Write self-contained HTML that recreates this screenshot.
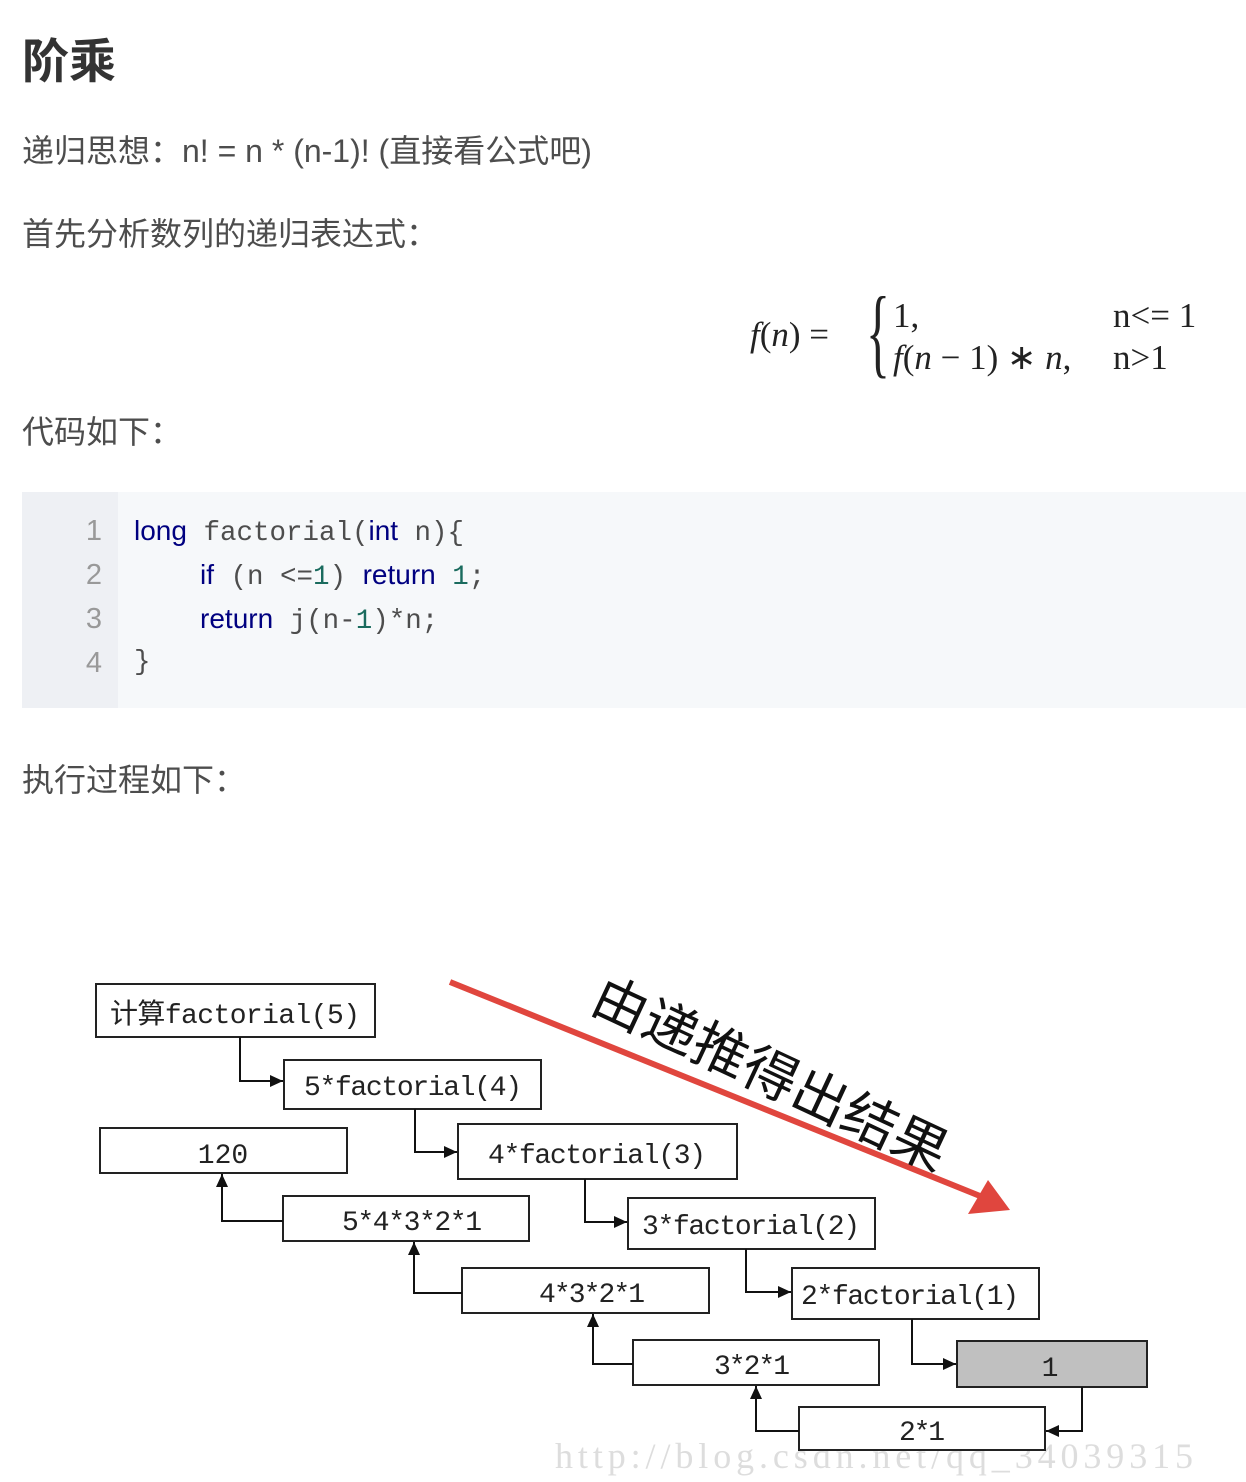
<!DOCTYPE html>
<html><head><meta charset="utf-8"><style>
html,body{margin:0;padding:0;background:#fff;width:1246px;height:1482px;overflow:hidden}
.t{position:absolute;font-family:"Liberation Sans","Noto Sans CJK SC",sans-serif;color:#4d4d4d;font-size:32px;white-space:nowrap;line-height:1}
.code{position:absolute;left:22px;top:492px;width:1224px;height:216px;background:#f6f8fa}
.gut{position:absolute;left:0;top:0;width:96px;height:216px;background:#eef0f4}
.ln{position:absolute;left:0;width:80px;text-align:right;font-family:"Liberation Sans",sans-serif;font-size:29px;color:#999}
.cl{position:absolute;left:112px;font-family:"Liberation Mono",monospace;font-size:27.5px;color:#4d4d4d;white-space:pre}
.k{color:#000080;font-family:"Liberation Sans",sans-serif;font-size:28px}
.n{color:#1a6b5e}
.m{position:absolute;font-family:"Liberation Serif",serif;font-size:35px;color:#222;white-space:nowrap;line-height:1}
</style></head><body>
<div class="t" style="left:22px;top:38px;font-size:47px;font-weight:bold;color:#333">阶乘</div>
<div class="t" style="left:22px;top:135px">递归思想：n! = n * (n-1)! (直接看公式吧)</div>
<div class="t" style="left:22px;top:218px">首先分析数列的递归表达式：</div>
<div class="m" style="left:750px;top:317px"><i>f</i>(<i>n</i>) =</div>
<div class="m" style="left:866px;top:282px;font-size:100px;font-weight:lighter;transform:scaleX(0.5);transform-origin:left top">{</div>
<div class="m" style="left:893px;top:298px">1,</div>
<div class="m" style="left:893px;top:340px"><i>f</i>(<i>n</i> − 1) ∗ <i>n</i>,</div>
<div class="m" style="left:1113px;top:298px">n&lt;= 1</div>
<div class="m" style="left:1113px;top:340px">n&gt;1</div>
<div class="t" style="left:22px;top:416px">代码如下：</div>
<div class="code"><div class="gut"></div>
<div class="ln" style="top:23px">1</div><div class="ln" style="top:67px">2</div><div class="ln" style="top:111px">3</div><div class="ln" style="top:155px">4</div>
<div class="cl" style="top:23px"><span class="k">long</span> factorial(<span class="k">int</span> n){</div>
<div class="cl" style="top:67px">    <span class="k">if</span> (n &lt;=<span class="n">1</span>) <span class="k">return</span> <span class="n">1</span>;</div>
<div class="cl" style="top:111px">    <span class="k">return</span> j(n-<span class="n">1</span>)*n;</div>
<div class="cl" style="top:155px">}</div>
</div>
<div class="t" style="left:22px;top:764px">执行过程如下：</div>
<svg style="position:absolute;left:0;top:0" width="1246" height="1482">
<defs><marker id="a" markerWidth="14" markerHeight="14" refX="13" refY="6" orient="auto" markerUnits="userSpaceOnUse"><path d="M0,0 L13,6 L0,12z" fill="#111"/></marker></defs>
<text x="555" y="1468" font-family="Liberation Serif,serif" font-size="36" fill="#ddd" textLength="638" lengthAdjust="spacing">http://blog.csdn.net/qq_34039315</text>
<g fill="#fff" stroke="#222" stroke-width="2">
<rect x="96" y="984" width="279" height="53"/>
<rect x="284" y="1060" width="257" height="49"/>
<rect x="100" y="1128" width="247" height="45"/>
<rect x="458" y="1124" width="279" height="55"/>
<rect x="283" y="1196" width="246" height="45"/>
<rect x="628" y="1198" width="247" height="51"/>
<rect x="462" y="1268" width="247" height="45"/>
<rect x="792" y="1268" width="247" height="51"/>
<rect x="633" y="1340" width="246" height="45"/>
<rect x="957" y="1341" width="190" height="46" fill="#c0c0c0"/>
<rect x="799" y="1407" width="246" height="43"/>
</g>
<g fill="none" stroke="#111" stroke-width="2" marker-end="url(#a)">
<path d="M240 1037V1081H283"/><path d="M415 1109V1152H457"/><path d="M585 1179V1222H627"/>
<path d="M746 1249V1292H791"/><path d="M912 1319V1364H956"/><path d="M1082 1387V1431H1046"/>
<path d="M799 1431H756V1386"/><path d="M633 1364H593V1314"/><path d="M462 1293H414V1242"/><path d="M283 1221H222V1174"/>
</g>
<g font-family="Liberation Mono,Noto Sans CJK SC,monospace" font-size="28" fill="#222" text-anchor="middle" lengthAdjust="spacingAndGlyphs">
<text x="235" y="1023" textLength="250">计算factorial(5)</text>
<text x="413" y="1095" textLength="218">5*factorial(4)</text>
<text x="223" y="1163">120</text>
<text x="597" y="1163" textLength="218">4*factorial(3)</text>
<text x="412" y="1230" textLength="140">5*4*3*2*1</text>
<text x="751" y="1234" textLength="218">3*factorial(2)</text>
<text x="592" y="1302" textLength="106">4*3*2*1</text>
<text x="910" y="1304" textLength="218">2*factorial(1)</text>
<text x="752" y="1374" textLength="76">3*2*1</text>
<text x="1050" y="1376">1</text>
<text x="922" y="1440" textLength="46">2*1</text>
</g>
<line x1="450" y1="982" x2="980" y2="1196" stroke="#e0463e" stroke-width="6"/>
<path d="M1010 1210 L968 1214 L988 1180z" fill="#e0463e"/>
<text x="0" y="0" transform="translate(588,1010) rotate(25)" font-family="Noto Sans CJK SC,sans-serif" font-size="54" fill="#111" textLength="385" lengthAdjust="spacingAndGlyphs">由递推得出结果</text>
</svg>
</body></html>
